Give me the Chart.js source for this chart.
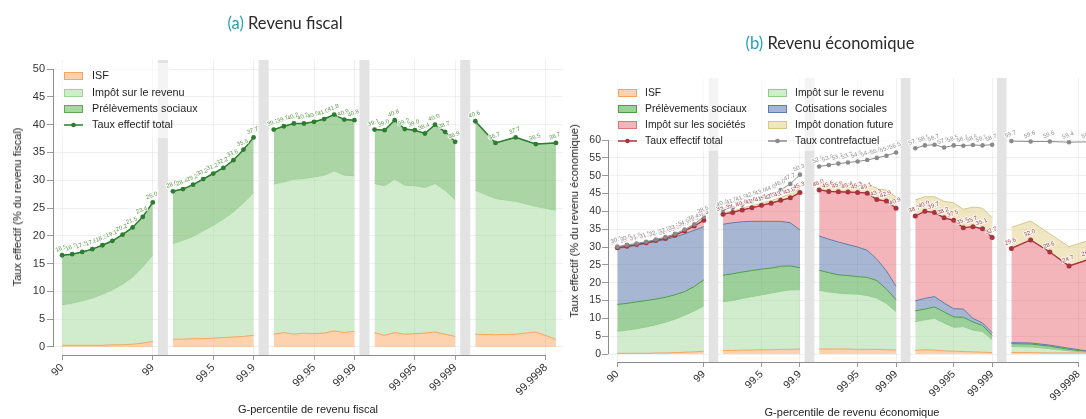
<!DOCTYPE html>
<html>
<head>
<meta charset="utf-8">
<title>Taux effectifs par G-percentile</title>
<script src="https://cdn.jsdelivr.net/npm/chart.js@4.4.1/dist/chart.umd.min.js"></script>
<style>
  html, body { margin: 0; padding: 0; background: #fff; overflow: hidden; }
  #wrap { position: relative; width: 1086px; height: 419px; overflow: hidden; background: #fff; }
  canvas { position: absolute; top: 0; display: block; }
  #ca { left: 0; }
  #cb { left: 570px; }
  .title { position: absolute; font-family: Lato, 'Open Sans', sans-serif; font-size: 16.5px; color: #2b2b2b;
           white-space: nowrap; transform: translate(-50%, -50%); }
  .title .tag { color: #2a9db5; }
  .axt { position: absolute; font-family: 'Liberation Sans', Arial, sans-serif; font-size: 11px; color: #222;
         white-space: nowrap; transform: translate(-50%, -50%); }
  .axt.rot { transform: translate(-50%, -50%) rotate(-90deg); }
</style>
</head>
<body>
<div id="wrap">
  <canvas id="ca" width="570" height="419"></canvas>
  <canvas id="cb" width="560" height="419"></canvas>
  <div class="title" style="left:285px; top:23px"><span class="tag">(a)</span> Revenu fiscal</div>
  <div class="title" style="left:830px; top:43px"><span class="tag">(b)</span> Revenu économique</div>
  <div class="axt rot" style="left:17px; top:207px">Taux effectif (% du revenu fiscal)</div>
  <div class="axt" style="left:308px; top:409px">G-percentile de revenu fiscal</div>
  <div class="axt rot" style="left:574px; top:221px">Taux effectif (% du revenu économique)</div>
  <div class="axt" style="left:852px; top:412px">G-percentile de revenu économique</div>
</div>
<script>
// ---- G-percentile groups (each group is drawn as its own block) ----
const seg1 = ['90', '91', '92', '93', '94', '95', '96', '97', '98', '99'];
const seg2 = ['99.1', '99.2', '99.3', '99.4', '99.5', '99.6', '99.7', '99.8', '99.9'];
const seg3 = ['99.91', '99.92', '99.93', '99.94', '99.95', '99.96', '99.97', '99.98', '99.99'];
const seg4 = ['99.991', '99.992', '99.993', '99.994', '99.995', '99.996', '99.997', '99.998', '99.999'];
const seg5 = ['99.9991', '99.9993', '99.9995', '99.9997', '99.9999'];
const segments = [seg1, seg2, seg3, seg4, seg5];

// slots along the horizontal axis, with one empty slot between groups
const gapSlots = ['gap1', 'gap2', 'gap3', 'gap4'];
const axisSlots = [...seg1, 'gap1', ...seg2, 'gap2', ...seg3, 'gap3', ...seg4, 'gap4',
  '99.9991', '99.9992', '99.9993', '99.9994', '99.9995', '99.9996', '99.9997', '99.9998', '99.9999'];
const tickLabels = ['90', '99', '99.5', '99.9', '99.95', '99.99', '99.995', '99.999', '99.9998'];

// ---- (a) Revenu fiscal : taux en % du revenu fiscal ----
const fiscalISF = [0.3, 0.3, 0.3, 0.3, 0.3, 0.4, 0.4, 0.5, 0.7, 1.0,
  1.4, 1.4, 1.5, 1.5, 1.6, 1.7, 1.8, 1.9, 2.1,
  2.3, 2.6, 2.3, 2.5, 2.4, 2.5, 2.9, 2.6, 2.8,
  2.6, 2.1, 2.6, 2.3, 2.4, 2.5, 2.7, 2.3, 1.9,
  2.3, 2.2, 2.3, 2.7, 1.4];
const fiscalIR = [7.3, 7.6, 8.0, 8.5, 9.2, 9.9, 10.9, 12.1, 13.7, 15.6,
  17.2, 17.8, 18.4, 19.4, 20.3, 21.3, 22.5, 24.0, 25.7,
  27.0, 27.1, 27.9, 27.8, 28.2, 28.4, 28.8, 28.3, 28.0,
  26.8, 26.9, 27.6, 26.8, 26.6, 26.2, 26.7, 25.9, 24.6,
  25.9, 24.5, 23.9, 22.6, 23.2];
const fiscalPS = [8.9, 8.8, 8.8, 8.8, 8.8, 8.8, 8.9, 8.9, 9.0, 9.4,
  9.4, 9.2, 9.3, 9.3, 9.3, 9.2, 9.3, 9.6, 9.9,
  9.8, 10.0, 10.0, 9.9, 9.9, 10.1, 10.1, 10.0, 10.0,
  9.7, 10.0, 10.6, 10.1, 10.0, 9.7, 10.6, 10.5, 10.4,
  12.4, 10.0, 11.5, 11.2, 12.1];
const fiscalTotal = [16.5, 16.7, 17.1, 17.6, 18.3, 19.1, 20.2, 21.5, 23.4, 26.0,
  28.0, 28.4, 29.2, 30.2, 31.2, 32.2, 33.6, 35.5, 37.7,
  39.1, 39.7, 40.2, 40.2, 40.5, 41.0, 41.8, 40.9, 40.8,
  39.1, 39.0, 40.8, 39.2, 39.0, 38.4, 40.0, 38.7, 36.9,
  40.6, 36.7, 37.7, 36.5, 36.7];

// ---- (b) Revenu économique : taux en % du revenu économique ----
const ecoISF = [0.2, 0.2, 0.2, 0.2, 0.3, 0.3, 0.4, 0.5, 0.6, 0.8,
  1.0, 1.0, 1.1, 1.1, 1.2, 1.2, 1.3, 1.3, 1.4,
  1.4, 1.4, 1.4, 1.4, 1.3, 1.3, 1.3, 1.2, 1.1,
  1.0, 1.2, 1.1, 0.9, 0.8, 0.7, 0.6, 0.5, 0.4,
  0.4, 0.4, 0.3, 0.3, 0.3];
const ecoIR = [6.2, 6.5, 6.9, 7.4, 7.9, 8.6, 9.4, 10.4, 11.5, 12.7,
  13.7, 14.0, 14.5, 15.0, 15.4, 15.9, 16.3, 16.7, 16.6,
  16.5, 16.0, 15.7, 15.5, 15.5, 15.1, 14.4, 13.0, 10.8,
  8.1, 8.4, 8.9, 7.8, 6.7, 7.0, 6.1, 5.8, 3.6,
  1.7, 1.6, 1.2, 0.6, 0.2];
const ecoPS = [7.5, 7.5, 7.5, 7.4, 7.2, 7.0, 6.8, 6.6, 6.8, 7.3,
  7.4, 7.5, 7.4, 7.3, 7.2, 7.0, 7.0, 6.7, 6.2,
  5.6, 5.4, 5.1, 5.1, 4.9, 5.1, 4.9, 4.0, 3.3,
  3.0, 3.0, 3.2, 3.1, 2.9, 2.6, 2.3, 1.7, 1.2,
  0.8, 0.8, 0.7, 0.4, 0.1];
const ecoCot = [15.7, 15.8, 15.9, 16.0, 16.1, 16.2, 16.2, 16.2, 15.8, 14.9,
  14.3, 14.3, 14.1, 13.8, 13.4, 13.1, 12.6, 12.1, 10.6,
  9.6, 9.4, 9.2, 8.7, 8.3, 7.6, 6.0, 5.1, 3.8,
  2.8, 3.0, 2.9, 2.5, 2.3, 2.3, 1.0, 0.7, 0.8,
  0.3, 0.3, 0.3, 0.3, 0.2];
const ecoIS = [0.2, 0.2, 0.2, 0.2, 0.3, 0.3, 0.5, 0.8, 1.2, 1.8,
  2.8, 2.9, 3.3, 3.8, 4.5, 5.1, 5.9, 7.0, 10.5,
  12.9, 13.4, 14.1, 14.7, 15.3, 16.0, 16.7, 19.6, 21.9,
  23.8, 24.4, 23.6, 23.9, 24.8, 22.8, 25.7, 26.4, 26.7,
  26.4, 28.9, 26.1, 23.1, 25.7];
const ecoDon = [0.1, 0.1, 0.1, 0.1, 0.1, 0.2, 0.2, 0.2, 0.3, 0.5,
  0.4, 0.4, 0.5, 0.6, 0.6, 0.7, 0.8, 1.1, 1.2,
  1.8, 2.3, 2.3, 2.4, 2.4, 2.5, 3.2, 3.0, 3.1,
  4.5, 4.1, 4.4, 4.6, 4.9, 5.2, 5.5, 5.8, 5.5,
  5.9, 5.3, 5.1, 5.4, 5.3];
const ecoTotal = [29.8, 30.2, 30.7, 31.2, 31.8, 32.4, 33.3, 34.5, 35.9, 37.5,
  39.2, 39.7, 40.4, 41.0, 41.7, 42.3, 43.1, 43.8, 45.3,
  46.0, 45.6, 45.5, 45.4, 45.3, 45.1, 43.3, 42.9, 40.9,
  38.7, 40.0, 39.7, 38.2, 37.5, 35.4, 35.7, 35.1, 32.7,
  29.6, 32.0, 28.6, 24.7, 26.5];
const ecoContrefactuel = [30.1, 30.6, 31.0, 31.5, 32.1, 32.8, 33.7, 34.9, 36.4, 38.5,
  40.4, 41.0, 41.9, 42.8, 43.6, 44.6, 46.0, 47.7, 50.3,
  52.6, 53.0, 53.4, 53.7, 54.0, 54.4, 55.0, 55.6, 56.5,
  57.7, 58.5, 58.7, 57.9, 58.5, 58.4, 58.6, 58.5, 58.7,
  59.7, 59.6, 59.6, 59.4, 59.5];

const yTicksFiscal = [0, 5, 10, 15, 20, 25, 30, 35, 40, 45, 50];
const yTicksEco = [0, 5, 10, 15, 20, 25, 30, 35, 40, 45, 50, 55, 60];

// walk the groups in order; a null point after each group breaks lines and fills
function series(values) {
  const out = [];
  let k = 0;
  segments.forEach((seg, s) => {
    seg.forEach(p => out.push({ x: axisSlots.indexOf(p), y: values[k++] }));
    if (s < gapSlots.length) out.push({ x: axisSlots.indexOf(gapSlots[s]), y: null });
  });
  return out;
}

function area(label, values, fill, border, fillTo) {
  return {
    label, data: series(values), stack: 'taxes', fill: fillTo,
    backgroundColor: fill, borderColor: border, borderWidth: 1,
    pointRadius: 0, tension: 0, spanGaps: false
  };
}
function rateLine(label, values, color, stack, radius, width, labelColor, order) {
  return {
    label, data: series(values), stack, fill: false,
    borderColor: color, backgroundColor: color, borderWidth: width,
    pointRadius: radius, pointBackgroundColor: color, pointBorderWidth: 0,
    tension: 0, spanGaps: false, order, valueLabelColor: labelColor
  };
}

// grey separators between groups, trimmed axis lines
const frame = {
  id: 'frame',
  beforeDatasetsDraw(chart) {
    const { ctx, chartArea } = chart;
    const xs = chart.scales.x, ys = chart.scales.y;
    const spec = frameSpecs[chart.canvas.id];
    ctx.save();
    ctx.fillStyle = '#e3e3e3';
    gapSlots.forEach(g => {
      const i = axisSlots.indexOf(g);
      const x0 = xs.getPixelForValue(i - 0.5), x1 = xs.getPixelForValue(i + 0.5);
      ctx.fillRect(x0, chartArea.top, x1 - x0, chartArea.bottom - chartArea.top + spec.extend);
    });
    ctx.strokeStyle = '#8c8c8c';
    ctx.lineWidth = 1;
    ctx.beginPath();
    const lx = Math.round(chartArea.left) + 0.5;
    ctx.moveTo(lx, ys.getPixelForValue(0));
    ctx.lineTo(lx, ys.getPixelForValue(spec.yTop));
    const by = Math.round(chartArea.bottom) + 0.5;
    ctx.moveTo(xs.getPixelForValue(axisSlots.indexOf(tickLabels[0])), by);
    ctx.lineTo(xs.getPixelForValue(axisSlots.indexOf(tickLabels[tickLabels.length - 1])), by);
    ctx.stroke();
    ctx.restore();
  }
};

// small value labels above the rate markers
const valueLabels = {
  id: 'valueLabels',
  afterDatasetsDraw(chart) {
    const ctx = chart.ctx;
    chart.data.datasets.forEach((ds, i) => {
      if (!ds.valueLabelColor) return;
      const meta = chart.getDatasetMeta(i);
      meta.data.forEach((pt, j) => {
        const d = ds.data[j];
        if (!d || d.y === null) return;
        ctx.save();
        ctx.translate(pt.x, pt.y - 4);
        ctx.rotate(-0.35);
        ctx.font = "6px 'Liberation Sans', Arial, sans-serif";
        ctx.textAlign = 'center';
        ctx.textBaseline = 'bottom';
        ctx.lineWidth = 2;
        ctx.strokeStyle = 'rgba(255,255,255,0.8)';
        ctx.strokeText(d.y.toFixed(1), 0, 0);
        ctx.fillStyle = ds.valueLabelColor;
        ctx.fillText(d.y.toFixed(1), 0, 0);
        ctx.restore();
      });
    });
  }
};

// legend drawn inside the plot, over a pale backing
const legendBox = {
  id: 'legendBox',
  afterDatasetsDraw(chart) {
    const spec = legendSpecs[chart.canvas.id];
    const ctx = chart.ctx;
    ctx.save();
    ctx.fillStyle = 'rgba(255,255,255,0.6)';
    ctx.fillRect(spec.bg[0], spec.bg[1], spec.bg[2], spec.bg[3]);
    ctx.font = spec.font;
    ctx.textBaseline = 'middle';
    spec.items.forEach(it => {
      const ds = chart.data.datasets[it.ds];
      if (ds.fill === false) {
        ctx.strokeStyle = ds.borderColor;
        ctx.lineWidth = 1.5;
        ctx.beginPath();
        ctx.moveTo(it.x, it.y);
        ctx.lineTo(it.x + 19, it.y);
        ctx.stroke();
        ctx.fillStyle = ds.borderColor;
        ctx.beginPath();
        ctx.arc(it.x + 9.5, it.y, 2.3, 0, Math.PI * 2);
        ctx.fill();
      } else {
        ctx.fillStyle = ds.backgroundColor;
        ctx.fillRect(it.x, it.y - 4, 19, 8);
        ctx.strokeStyle = ds.borderColor;
        ctx.lineWidth = 1;
        ctx.strokeRect(it.x + 0.5, it.y - 3.5, 18, 7);
      }
      ctx.fillStyle = '#1e1e1e';
      ctx.fillText(ds.label, it.x + spec.textGap, it.y + 0.5);
    });
    ctx.restore();
  }
};

const frameSpecs = {
  ca: { extend: 1, yTop: 50 },
  cb: { extend: 1, yTop: 60 }
};
const legendSpecs = {
  ca: {
    bg: [57, 63, 115, 75], font: "10.8px 'Liberation Sans', Arial, sans-serif", textGap: 28,
    items: [{ ds: 0, x: 64, y: 76 }, { ds: 1, x: 64, y: 93 }, { ds: 2, x: 64, y: 109 }, { ds: 3, x: 64, y: 125 }]
  },
  cb: {
    bg: [42, 70, 283, 81], font: "10.4px 'Liberation Sans', Arial, sans-serif", textGap: 27,
    items: [
      { ds: 0, x: 48, y: 93 }, { ds: 2, x: 48, y: 109 }, { ds: 4, x: 48, y: 125 }, { ds: 6, x: 48, y: 141 },
      { ds: 1, x: 198, y: 93 }, { ds: 3, x: 198, y: 109 }, { ds: 5, x: 198, y: 125 }, { ds: 7, x: 198, y: 141 }
    ]
  }
};

Chart.defaults.font.family = "'Liberation Sans', Arial, sans-serif";
Chart.defaults.color = '#333';

function options(cfg) {
  return {
    responsive: false,
    animation: false,
    layout: { padding: cfg.padding },
    plugins: { legend: { display: false }, tooltip: { enabled: false } },
    scales: {
      x: {
        type: 'linear', min: cfg.xMin, max: cfg.xMax,
        afterFit: s => { s.height = cfg.xHeight; },
        afterBuildTicks: s => { s.ticks = tickLabels.map(l => ({ value: axisSlots.indexOf(l) })); },
        ticks: {
          autoSkip: false, maxRotation: 45, minRotation: 45, padding: 1,
          font: { size: cfg.tickSize }, color: '#333', callback: v => axisSlots[v]
        },
        grid: { color: 'rgba(0,0,0,0.06)', tickColor: '#9a9a9a', tickLength: 5 },
        border: { display: false }
      },
      y: {
        stacked: true, min: cfg.yMin, max: cfg.yMax,
        afterFit: s => { s.width = cfg.yWidth; },
        afterBuildTicks: s => { s.ticks = cfg.yTicks.map(v => ({ value: v })); },
        ticks: { padding: cfg.yPad, font: { size: cfg.tickSize }, color: '#333' },
        grid: { color: 'rgba(0,0,0,0.06)', tickColor: '#9a9a9a', tickLength: 6 },
        border: { display: false }
      }
    }
  };
}

new Chart(document.getElementById('ca'), {
  type: 'line',
  data: {
    datasets: [
      area('ISF', fiscalISF, 'rgba(253,165,95,0.5)', '#f6a560', 'origin'),
      area('Impôt sur le revenu', fiscalIR, 'rgba(161,217,155,0.5)', '#9fd39a', '-1'),
      area('Prélèvements sociaux', fiscalPS, 'rgba(110,182,100,0.58)', '#5ea75a', '-1'),
      rateLine('Taux effectif total', fiscalTotal, '#2b7d2f', 'total', 2.4, 1.5, '#5d9a4a', -1)
    ]
  },
  options: options({
    padding: { left: 0, top: 60, right: 7, bottom: 19 },
    xMin: -0.9, xMax: 49.7, yMin: -1.44, yMax: 51.62, xHeight: 45, yWidth: 53,
    yTicks: yTicksFiscal, tickSize: 11, yPad: 2
  }),
  plugins: [frame, legendBox, valueLabels]
});

new Chart(document.getElementById('cb'), {
  type: 'line',
  data: {
    datasets: [
      area('ISF', ecoISF, 'rgba(253,165,95,0.5)', '#f6a560', 'origin'),
      area('Impôt sur le revenu', ecoIR, 'rgba(161,217,155,0.5)', '#8fcd8a', '-1'),
      area('Prélèvements sociaux', ecoPS, 'rgba(95,178,90,0.62)', '#4c9c4c', '-1'),
      area('Cotisations sociales', ecoCot, 'rgba(80,110,168,0.5)', '#5f7bab', '-1'),
      area('Impôt sur les sociétés', ecoIS, 'rgba(228,92,102,0.45)', '#d9777f', '-1'),
      area('Impôt donation future', ecoDon, 'rgba(226,205,132,0.5)', '#d8c68a', '-1'),
      rateLine('Taux effectif total', ecoTotal, '#a8323e', 'total', 2.5, 1.3, '#a3404c', -1),
      rateLine('Taux contrefactuel', ecoContrefactuel, '#8a8a8a', 'contrefactuel', 2.3, 1, '#8e8e8e', -2)
    ]
  },
  options: options({
    padding: { left: 0, top: 78, right: 35, bottom: 12 },
    xMin: -0.97, xMax: 49.7, yMin: -2.24, yMax: 77.4, xHeight: 45, yWidth: 38,
    yTicks: yTicksEco, tickSize: 10.5, yPad: 1
  }),
  plugins: [frame, legendBox, valueLabels]
});
</script>
</body>
</html>
